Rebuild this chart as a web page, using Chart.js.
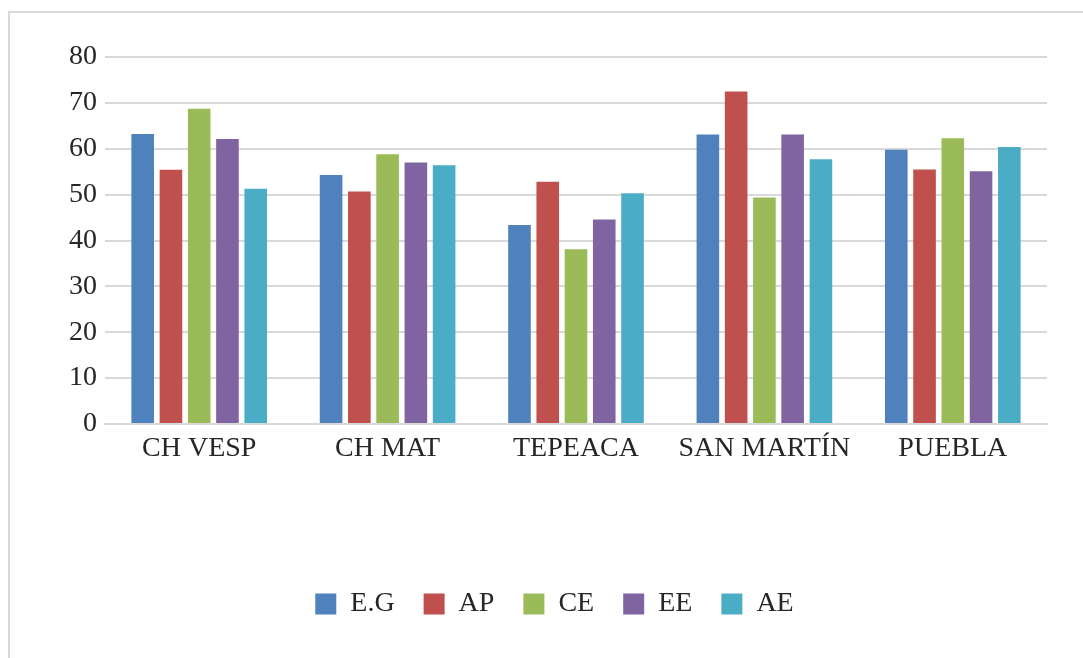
<!DOCTYPE html>
<html>
<head>
<meta charset="utf-8">
<script src="https://cdn.jsdelivr.net/npm/chart.js@4"></script>
<style>
  html, body { margin: 0; padding: 0; background: #fff; overflow: hidden; }
  #frame {
    position: absolute; left: 8px; top: 11px; width: 1200px; height: 800px;
    border-left: 2px solid #d9d9d9; border-top: 2px solid #d9d9d9;
  }
  #wrap { position: absolute; left: 0; top: 0; width: 1083px; height: 658px; }
</style>
</head>
<body>
<div id="frame"></div>
<div id="wrap"><canvas id="chart"></canvas></div>
<script>
// categorías y series
const categories = ['CH VESP', 'CH MAT', 'TEPEACA', 'SAN MARTÍN', 'PUEBLA'];
const seriesNames = ['E.G', 'AP', 'CE', 'EE', 'AE'];
const eg = [63.2, 54.3, 43.4, 63.1, 59.8];
const ap = [55.4, 50.7, 52.8, 72.5, 55.5];
const ce = [68.7, 58.8, 38.1, 49.4, 62.3];
const ee = [62.1, 57.0, 44.6, 63.1, 55.1];
const ae = [51.3, 56.4, 50.3, 57.7, 60.4];
const yTicks = [0, 10, 20, 30, 40, 50, 60, 70, 80];

const colors = ['#4f81bd', '#c0504d', '#9bbb59', '#8064a2', '#4bacc6'];
const values = [eg, ap, ce, ee, ae];
const FONT = "'Liberation Serif', 'DejaVu Serif', serif";

const ctx = document.getElementById('chart').getContext('2d');
new Chart(ctx, {
    type: 'bar',
    data: {
        labels: categories,
        datasets: seriesNames.map((name, i) => ({
            label: name,
            data: values[i],
            backgroundColor: colors[i],
            borderWidth: 0,
            categoryPercentage: 0.75,
            barPercentage: 0.8
        }))
    },
    options: {
        responsive: true,
        maintainAspectRatio: false,
        animation: false,
        // el padding izquierdo desplaza la leyenda hacia la derecha, como en el original
        layout: { padding: { top: 57, right: 36, bottom: 30, left: 62 } },
        plugins: {
            tooltip: { enabled: false },
            legend: {
                position: 'bottom',
                labels: {
                    boxWidth: 21,
                    boxHeight: 21,
                    padding: 29,
                    color: '#262626',
                    font: { family: FONT, size: 28 }
                }
            }
        },
        scales: {
            x: {
                grid: { display: false },
                border: { color: '#d9d9d9', width: 2 },
                ticks: {
                    color: '#262626',
                    padding: 0,
                    maxRotation: 0,
                    font: { family: FONT, size: 28 }
                },
                afterFit: scale => { scale.height = 137; }
            },
            y: {
                min: 0,
                max: 80,
                afterBuildTicks: scale => { scale.ticks = yTicks.map(v => ({ value: v })); },
                grid: { color: '#d9d9d9', lineWidth: 2, drawTicks: false },
                border: { display: false },
                ticks: {
                    color: '#262626',
                    padding: 8,
                    font: { family: FONT, size: 28 }
                },
                afterFit: scale => { scale.width = 43; }
            }
        }
    }
});
</script>
</body>
</html>
